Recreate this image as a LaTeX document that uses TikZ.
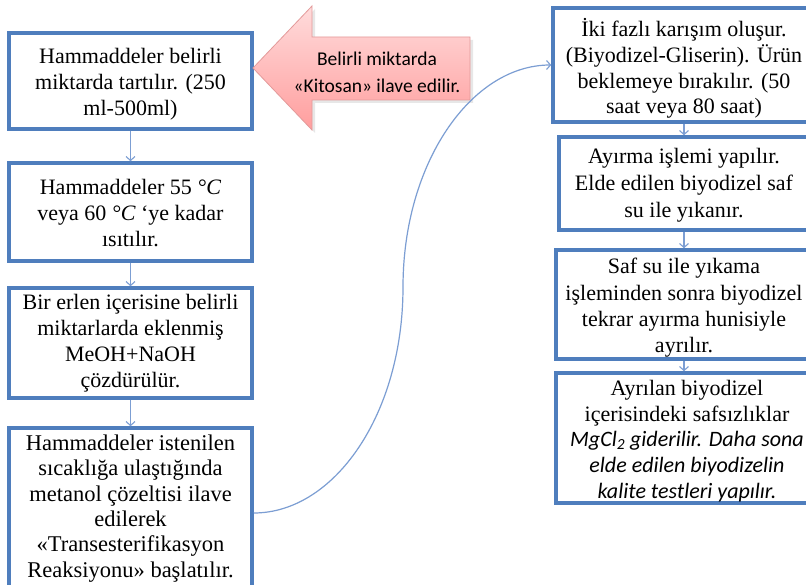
\documentclass[tikz,border=0pt]{standalone}
\usepackage{fontspec}
\setmainfont{Liberation Serif}
\newfontfamily\calibri{Carlito}
\usetikzlibrary{arrows.meta}
\definecolor{boxblue}{HTML}{4F7EBD}
\definecolor{linkblue}{HTML}{7C9ED3}
\definecolor{calloutedge}{HTML}{E39A9A}
\definecolor{callouttop}{HTML}{FFDCDC}
\definecolor{calloutbot}{HTML}{FF9E9E}
\definecolor{calloutshade}{HTML}{D8D8D8}
\begin{document}
\begin{tikzpicture}[x=1pt,y=-1pt,
  stepbox/.style={draw=boxblue, line width=3.5pt, fill=white, inner sep=0pt},
  steptext/.style={align=center, inner sep=0pt,
    font=\fontsize{22}{26}\selectfont},
  link/.style={draw=linkblue, line width=1.2pt,
    -{Straight Barb[length=4pt,width=9pt,line width=1.1pt]}},
  callouttext/.style={align=center, inner sep=0pt,
    font=\calibri\fontsize{19.5}{27}\selectfont}]
  % canvas
  \fill[white] (0,0) rectangle (806,585);
  \useasboundingbox (0,0) rectangle (806,585);
  \clip (0,0) rectangle (806,585);

  % left column frames
  \node[stepbox, minimum width=243pt, minimum height=96pt]  (b1) at (130.5,81) {};
  \node[stepbox, minimum width=243pt, minimum height=98pt]  (b2) at (130.5,212) {};
  \node[stepbox, minimum width=243pt, minimum height=110pt] (b3) at (130.5,343) {};
  \node[stepbox, minimum width=243pt, minimum height=170pt] (b4) at (130.5,513) {};

  % right column frames (running past the right edge)
  \node[stepbox, minimum width=262pt, minimum height=114pt] (r1) at (684,65) {};
  \node[stepbox, minimum width=250pt, minimum height=93pt]  (r2) at (684,183.5) {};
  \node[stepbox, minimum width=256pt, minimum height=109pt] (r3) at (684,304.5) {};
  \node[stepbox, minimum width=256pt, minimum height=130pt] (r4) at (684,438) {};

  % step texts
  \node[steptext] (b1txt) at ([yshift=-3pt]b1.center)
    {Hammaddeler belirli\\ miktarda tartılır. (250\\ ml-500ml)};
  \node[steptext] (b2txt) at ([yshift=-1.5pt]b2.center)
    {Hammaddeler 55 \textit{°C}\\ veya 60 \textit{°C} ‘ye kadar\\ ısıtılır.};
  \node[steptext] (b3txt) at ([yshift=-0.5pt]b3.center)
    {Bir erlen içerisine belirli\\ miktarlarda eklenmiş\\ MeOH+NaOH\\ çözdürülür.};
  \node[steptext, font=\fontsize{22.5}{25.4}\selectfont] (b4txt) at ([yshift=4.5pt]b4.center)
    {Hammaddeler istenilen\\ sıcaklığa ulaştığında\\ metanol çözeltisi ilave\\ edilerek\\ «Transesterifikasyon\\ Reaksiyonu» başlatılır.};
  \node[steptext, font=\fontsize{22}{25.7}\selectfont] (r1txt) at ([yshift=-3.5pt]r1.center)
    {İki fazlı karışım oluşur.\\ (Biyodizel-Gliserin). Ürün\\ beklemeye bırakılır. (50\\ saat veya 80 saat)};
  \node[steptext, font=\fontsize{22}{27}\selectfont] (r2txt) at ([yshift=-1.5pt]r2.center)
    {Ayırma işlemi yapılır.\\ Elde edilen biyodizel saf\\ su ile yıkanır.};
  \node[steptext, font=\fontsize{22}{26.3}\selectfont] (r3txt) at ([yshift=-3.5pt]r3.center)
    {Saf su ile yıkama\\ işleminden sonra biyodizel\\ tekrar ayırma hunisiyle\\ ayrılır.};
  \node[steptext, font=\fontsize{22}{25.8}\selectfont] (r4txt) at ([xshift=3pt,yshift=-3pt]r4.center)
    {Ayrılan biyodizel\\ içerisindeki safsızlıklar\\
     {\calibri\itshape MgCl\textsubscript{2} giderilir. Daha sona}\\
     {\calibri\itshape elde edilen biyodizelin}\\
     {\calibri\itshape kalite testleri yapılır.}};

  % callout arrow pointing at the first step, with a soft drop shade
  \fill[calloutshade, opacity=0.6]
    (256,71) -- (315,9) -- (315,40) -- (473,40) -- (473,103) -- (315,103)
    -- (315,133) -- cycle;
  \draw[line width=0.8pt, draw=calloutedge, top color=callouttop, bottom color=calloutbot]
    (253,68) -- (312,6) -- (312,37) -- (470,37) -- (470,100) -- (312,100)
    -- (312,130) -- cycle;
  \node[callouttext] (kitosan) at (377,72)
    {Belirli miktarda\\ «Kitosan» ilave edilir.};

  % connectors
  \draw[link] (b1.south) -- (b2.north);
  \draw[link] (b2.south) -- (b3.north);
  \draw[link] (b3.south) -- (b4.north);
  \draw[link] (r1.south) -- (r2.north);
  \draw[link] (r2.south) -- (r3.north);
  \draw[link] (r3.south) -- (r4.north);

  \coordinate (bend) at (403,287);
  \draw[link] (b4.east) .. controls +(80,0) and +(0,128) .. (bend)
    .. controls +(0,-124) and +(-80,0) .. (r1.west);
\end{tikzpicture}
\end{document}
